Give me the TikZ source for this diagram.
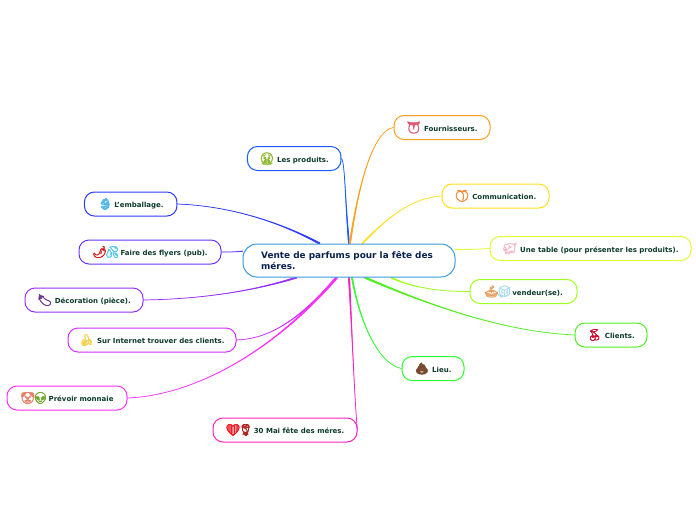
\documentclass[tikz,border=0pt]{standalone}
\usepackage{fontspec}
\setmainfont{DejaVu Sans}
\newfontfamily\emofont[FakeBold=3.5]{Noto Emoji}
\usetikzlibrary{calc,backgrounds}
\definecolor{cmain}{HTML}{3A9BDC}
\definecolor{ctitle}{HTML}{0B2150}
\definecolor{ctext}{HTML}{0D3B2E}
\definecolor{cprod}{HTML}{1A5CFF}
\definecolor{cemb}{HTML}{2B3BFF}
\definecolor{cfly}{HTML}{6A35FF}
\definecolor{cdec}{HTML}{9A30FF}
\definecolor{cint}{HTML}{D030FF}
\definecolor{cmon}{HTML}{FF30FF}
\definecolor{cmai}{HTML}{FF20C0}
\definecolor{cfou}{HTML}{FF9F1C}
\definecolor{ccom}{HTML}{FFE020}
\definecolor{ctab}{HTML}{DFFF30}
\definecolor{cven}{HTML}{A0FF20}
\definecolor{ccli}{HTML}{50F020}
\definecolor{clie}{HTML}{30FF30}
\newcommand{\emo}[2]{{\emofont\fontsize{11.5}{12}\selectfont\textcolor[HTML]{#1}{#2}}}
\newcommand{\taper}[6]{\filldraw[#1,line width=.7pt,line join=round] (#2) .. controls (#3) and (#4) .. ($(#5)+(#6)$) -- ($(#5)-(#6)$) .. controls (#4) and (#3) .. (#2) -- cycle;}
\tikzset{
  x=1pt,y=-1pt,
  leaf/.style={draw=#1,fill=white,rounded corners=10pt,line width=1pt,minimum height=24pt,inner sep=0pt,text=ctext,font=\fontsize{7}{9}\selectfont\bfseries},
  root/.style={draw=cmain,fill=white,rounded corners=14pt,line width=1pt,minimum width=212pt,minimum height=33pt,inner sep=0pt,text=ctitle,align=left,font=\fontsize{8.9}{11}\selectfont\bfseries},
}
\begin{document}
\begin{tikzpicture}
\useasboundingbox (0,0) rectangle (696,520);
\node[root] (c) at (349,260.5) {Vente de parfums pour la fête des\hspace*{4pt}\\méres.};
\node[leaf=cprod,minimum width=93.5pt] (prod) at (294.2,158.5) {\emo{8DB92E}{🤮}\hspace{3pt}Les produits.};
\node[leaf=cemb,minimum width=92.5pt] (emb) at (130.7,204) {\emo{4FB8E8}{👙}\hspace{2pt}L'emballage.};
\node[leaf=cfly,minimum width=142pt] (fly) at (150,252) {\emo{D81E1E}{🌶}\hspace{-2pt}\emo{55C8F0}{💦}\hspace{1pt}Faire des flyers (pub).};
\node[leaf=cdec,minimum width=118pt] (dec) at (84,300) {\emo{6B3A8E}{🍆}\hspace{3pt}Décoration (pièce).};
\node[leaf=cint,minimum width=168pt] (int) at (152,340) {\emo{F5D04A}{🍌}\hspace{3pt}Sur Internet trouver des clients.};
\node[leaf=cmon,minimum width=120pt] (mon) at (67,398) {\emo{E8806A}{🤡}\hspace{-2pt}\emo{6FA82E}{👽}\hspace{1pt}Prévoir monnaie};
\node[leaf=cmai,minimum width=144pt] (mai) at (285,430) {\emo{EE1C25}{❤}\hspace{-2pt}\emo{B3261E}{🌹}\hspace{1pt}30 Mai fête des méres.};
\node[leaf=cfou,minimum width=96pt] (fou) at (442,127.5) {\emo{E0566E}{👅}\hspace{3pt}Fournisseurs.};
\node[leaf=ccom,minimum width=107pt] (com) at (495.5,196) {\emo{F58A3C}{🍑}\hspace{3pt}Communication.};
\node[leaf=ctab,minimum width=201pt] (tab) at (590.5,248.5) {\emo{F8B8CC}{🐖}\hspace{3pt}Une table (pour présenter les produits).};
\node[leaf=cven,minimum width=107pt] (ven) at (523.5,291.5) {\emo{E8A060}{🥧}\hspace{-2pt}\emo{A8DCF0}{🧊}\hspace{1pt}vendeur(se).};
\node[leaf=ccli,minimum width=72pt] (cli) at (611,335) {\emo{C8102E}{🍒}\hspace{3pt}Clients.};
\node[leaf=clie,minimum width=62pt] (lie) at (433,368.5) {\emo{7A4A2E}{💩}\hspace{3pt}Lieu.};
\begin{scope}[on background layer]
\taper{cprod}{prod.east}{345,162}{345,200}{c.north}{.6,0}
\taper{cemb}{emb.east}{230,206}{280,222}{c.150}{.4,-.6}
\taper{cfly}{fly.east}{228,252}{236,252}{c.175}{0,.2}
\taper{cdec}{dec.east}{200,299}{250,292}{c.198}{.2,.6}
\taper{cint}{int.east}{265,339}{295,325}{c.234}{.6,.6}
\taper{cmon}{mon.east}{200,395}{280,345}{c.234}{.7,.7}
\taper{cmai}{mai.east}{355,410}{352,330}{c.south}{.7,0}
\taper{cfou}{fou.west}{375,130}{360,175}{c.87}{.7,0}
\taper{ccom}{com.west}{410,198}{385,220}{c.52}{.4,.4}
\taper{ctab}{tab.west}{480,249}{465,250}{c.6}{0,.3}
\taper{cven}{ven.west}{440,292}{410,287}{c.-22}{.2,-.5}
\taper{ccli}{cli.west}{510,332}{440,310}{c.-47}{.4,-.7}
\taper{clie}{lie.west}{380,365}{360,325}{c.-80}{.6,0}
\end{scope}
\end{tikzpicture}
\end{document}
